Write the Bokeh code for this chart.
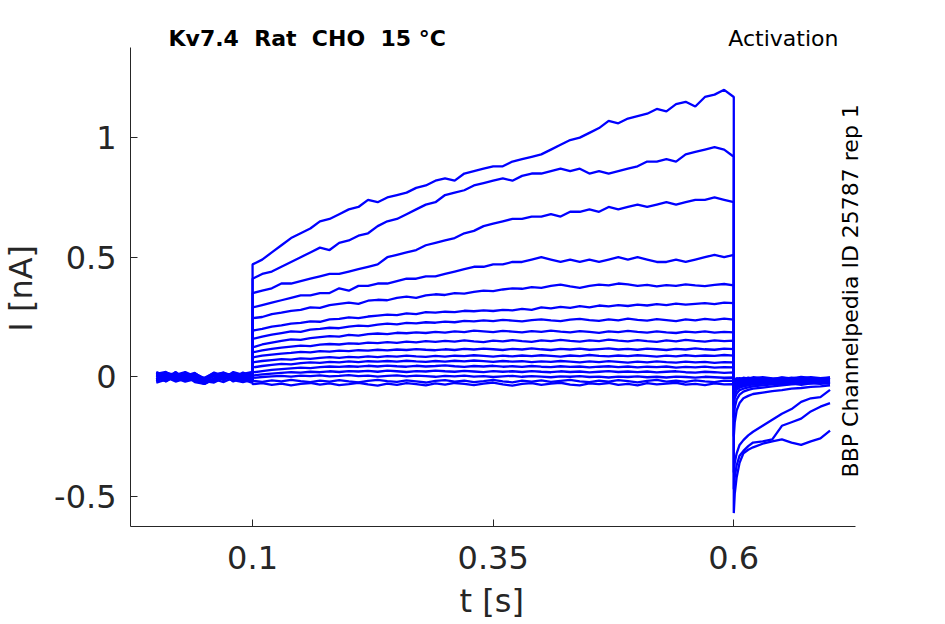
import numpy as np
from bokeh.plotting import figure
from bokeh.models import Range1d, FixedTicker, Label
from bokeh.embed import file_html
from bokeh.resources import INLINE

# sample times [s]: holding (0-0.1), test step (0.1-0.6), tail (0.6-0.7)
t_pre = [0.00, 0.01, 0.02, 0.03, 0.04, 0.05, 0.06, 0.07, 0.08, 0.09, 0.10]
t_step = [round(0.10 + 0.01 * k, 2) for k in range(51)]
t_tail = [0.600, 0.601, 0.603, 0.606, 0.610, 0.615, 0.620, 0.630,
          0.640, 0.650, 0.660, 0.670, 0.680, 0.690, 0.700]

# currents [nA]; each list = pre (11) + step (51) + tail (15)
i01 = [0.008, -0.012, 0.015, -0.004, 0.010, -0.020, 0.005, -0.008, 0.012, -0.006, 0.004,
       0.47, 0.49, 0.52, 0.55, 0.58, 0.60, 0.62, 0.65, 0.66, 0.68, 0.70, 0.71, 0.74, 0.73, 0.75, 0.76, 0.77,
       0.79, 0.80, 0.82, 0.83, 0.82, 0.85, 0.86, 0.87, 0.88, 0.88, 0.90, 0.91, 0.92, 0.93, 0.95, 0.97, 0.99,
       1.00, 1.02, 1.04, 1.07, 1.06, 1.08, 1.09, 1.10, 1.12, 1.11, 1.14, 1.15, 1.13, 1.17, 1.18, 1.20, 1.17,
       -0.57, -0.49, -0.42, -0.36, -0.32, -0.305, -0.295, -0.28, -0.27, -0.262, -0.275, -0.285, -0.27, -0.258, -0.225]
i02 = [-0.010, 0.012, -0.006, 0.018, -0.014, -0.025, 0.010, 0.016, -0.010, 0.008, -0.012,
       0.41, 0.43, 0.44, 0.46, 0.48, 0.50, 0.52, 0.54, 0.53, 0.56, 0.57, 0.59, 0.60, 0.63, 0.65, 0.66, 0.68,
       0.70, 0.72, 0.73, 0.76, 0.77, 0.78, 0.80, 0.81, 0.82, 0.83, 0.82, 0.84, 0.85, 0.85, 0.86, 0.87, 0.86,
       0.87, 0.85, 0.86, 0.85, 0.86, 0.87, 0.88, 0.90, 0.90, 0.91, 0.90, 0.93, 0.94, 0.95, 0.96, 0.95, 0.92,
       -0.47, -0.42, -0.37, -0.33, -0.31, -0.29, -0.275, -0.27, -0.262, -0.205, -0.19, -0.175, -0.145, -0.125, -0.11]
i03 = [0.015, -0.004, 0.010, -0.018, 0.006, -0.012, -0.020, 0.012, -0.004, 0.018, 0.002,
       0.35, 0.36, 0.37, 0.39, 0.39, 0.40, 0.41, 0.42, 0.43, 0.43, 0.44, 0.45, 0.46, 0.47, 0.50, 0.51, 0.52,
       0.53, 0.55, 0.56, 0.57, 0.58, 0.60, 0.61, 0.63, 0.64, 0.65, 0.66, 0.66, 0.67, 0.67, 0.68, 0.67, 0.69,
       0.69, 0.70, 0.69, 0.71, 0.70, 0.71, 0.72, 0.71, 0.72, 0.73, 0.72, 0.73, 0.74, 0.74, 0.75, 0.74, 0.73,
       -0.40, -0.36, -0.32, -0.285, -0.265, -0.245, -0.23, -0.205, -0.18, -0.155, -0.135, -0.105, -0.09, -0.085, -0.055]
i04 = [-0.020, 0.005, -0.015, 0.008, -0.022, -0.030, -0.006, 0.004, -0.016, 0.000, -0.010,
       0.29, 0.30, 0.31, 0.32, 0.33, 0.34, 0.34, 0.35, 0.35, 0.37, 0.36, 0.38, 0.38, 0.39, 0.39, 0.40, 0.41,
       0.41, 0.42, 0.42, 0.43, 0.44, 0.45, 0.46, 0.46, 0.47, 0.47, 0.48, 0.48, 0.49, 0.50, 0.49, 0.48, 0.49,
       0.48, 0.49, 0.48, 0.49, 0.50, 0.49, 0.50, 0.49, 0.48, 0.48, 0.49, 0.48, 0.49, 0.50, 0.51, 0.50, 0.51,
       -0.25, -0.19, -0.14, -0.11, -0.09, -0.08, -0.072, -0.066, -0.06, -0.056, -0.05, -0.047, -0.042, -0.04, -0.036]
i05 = [0.020, 0.004, 0.016, -0.002, 0.012, -0.008, 0.018, 0.002, 0.014, -0.004, 0.010,
       0.245, 0.25, 0.262, 0.268, 0.276, 0.28, 0.29, 0.288, 0.30, 0.305, 0.31, 0.305, 0.318, 0.322, 0.32, 0.33,
       0.335, 0.33, 0.34, 0.345, 0.342, 0.35, 0.348, 0.355, 0.36, 0.358, 0.365, 0.37, 0.368, 0.375, 0.372,
       0.38, 0.385, 0.378, 0.372, 0.38, 0.385, 0.382, 0.39, 0.386, 0.38, 0.384, 0.378, 0.383, 0.38, 0.386,
       0.382, 0.379, 0.384, 0.388, 0.382,
       -0.17, -0.13, -0.095, -0.075, -0.062, -0.055, -0.05, -0.045, -0.04, -0.036, -0.032, -0.03, -0.027, -0.03, -0.025]
i06 = [-0.005, -0.018, 0.004, -0.012, 0.000, -0.026, -0.014, 0.008, -0.018, 0.006, -0.008,
       0.193, 0.20, 0.21, 0.215, 0.222, 0.225, 0.232, 0.23, 0.24, 0.242, 0.248, 0.245, 0.252, 0.256, 0.26,
       0.258, 0.265, 0.262, 0.27, 0.268, 0.272, 0.27, 0.276, 0.274, 0.278, 0.275, 0.28, 0.278, 0.284, 0.28,
       0.29, 0.286, 0.292, 0.288, 0.295, 0.29, 0.298, 0.294, 0.30, 0.296, 0.302, 0.298, 0.304, 0.30, 0.306,
       0.302, 0.305, 0.308, 0.304, 0.31, 0.308,
       -0.12, -0.09, -0.07, -0.056, -0.05, -0.044, -0.04, -0.036, -0.032, -0.03, -0.027, -0.024, -0.026, -0.022, -0.02]
i07 = [0.012, 0.020, -0.002, 0.014, -0.008, -0.004, 0.016, -0.006, 0.020, 0.008, 0.014,
       0.158, 0.168, 0.176, 0.183, 0.19, 0.188, 0.197, 0.20, 0.205, 0.203, 0.21, 0.214, 0.212, 0.218, 0.222,
       0.219, 0.225, 0.223, 0.228, 0.226, 0.231, 0.228, 0.234, 0.232, 0.236, 0.233, 0.238, 0.235, 0.232, 0.237,
       0.24, 0.236, 0.233, 0.239, 0.242, 0.237, 0.234, 0.24, 0.236, 0.243, 0.238, 0.235, 0.241, 0.237, 0.233,
       0.24, 0.236, 0.242, 0.238, 0.243, 0.239,
       -0.09, -0.07, -0.055, -0.045, -0.04, -0.036, -0.032, -0.028, -0.025, -0.022, -0.024, -0.02, -0.018, -0.021, -0.018]
i08 = [-0.015, -0.002, -0.020, -0.008, -0.016, -0.030, -0.010, -0.022, -0.004, -0.018, -0.006,
       0.123, 0.135, 0.143, 0.15, 0.156, 0.154, 0.162, 0.166, 0.17, 0.168, 0.175, 0.172, 0.178, 0.181, 0.178,
       0.184, 0.182, 0.186, 0.183, 0.188, 0.185, 0.19, 0.187, 0.193, 0.19, 0.187, 0.192, 0.189, 0.186, 0.191,
       0.188, 0.193, 0.189, 0.186, 0.191, 0.188, 0.184, 0.19, 0.187, 0.192, 0.188, 0.185, 0.19, 0.186, 0.183,
       0.189, 0.186, 0.19, 0.185, 0.188, 0.186,
       -0.07, -0.055, -0.045, -0.038, -0.034, -0.03, -0.027, -0.024, -0.02, -0.023, -0.018, -0.021, -0.016, -0.019, -0.015]
i09 = [0.004, 0.016, 0.008, 0.020, 0.002, -0.010, 0.006, 0.018, 0.000, 0.012, 0.020,
       0.102, 0.11, 0.117, 0.122, 0.126, 0.13, 0.128, 0.134, 0.137, 0.135, 0.14, 0.138, 0.143, 0.141, 0.145,
       0.142, 0.147, 0.144, 0.149, 0.146, 0.15, 0.147, 0.152, 0.148, 0.145, 0.151, 0.148, 0.153, 0.149, 0.146,
       0.152, 0.149, 0.154, 0.15, 0.147, 0.152, 0.149, 0.155, 0.151, 0.148, 0.153, 0.149, 0.146, 0.152, 0.148,
       0.154, 0.15, 0.147, 0.152, 0.149, 0.151,
       -0.055, -0.045, -0.038, -0.032, -0.028, -0.025, -0.022, -0.018, -0.021, -0.016, -0.019, -0.014, -0.017, -0.013, -0.016]
i10 = [-0.025, -0.012, -0.006, -0.020, -0.010, -0.018, -0.024, -0.004, -0.014, -0.022, -0.012,
       0.081, 0.088, 0.093, 0.097, 0.10, 0.104, 0.102, 0.107, 0.105, 0.109, 0.107, 0.111, 0.109, 0.113, 0.11,
       0.114, 0.112, 0.116, 0.113, 0.111, 0.115, 0.112, 0.117, 0.114, 0.118, 0.115, 0.112, 0.117, 0.114, 0.119,
       0.115, 0.112, 0.117, 0.114, 0.118, 0.113, 0.116, 0.119, 0.114, 0.117, 0.113, 0.118, 0.115, 0.112, 0.117,
       0.114, 0.119, 0.115, 0.113, 0.118, 0.116,
       -0.045, -0.036, -0.03, -0.026, -0.022, -0.019, -0.016, -0.02, -0.014, -0.018, -0.012, -0.016, -0.011, -0.015, -0.012]
i11 = [0.018, -0.008, 0.012, 0.004, 0.016, -0.014, 0.002, 0.014, 0.008, -0.002, 0.016,
       0.06, 0.066, 0.07, 0.074, 0.072, 0.077, 0.075, 0.079, 0.082, 0.079, 0.083, 0.081, 0.085, 0.082, 0.086,
       0.084, 0.088, 0.085, 0.083, 0.087, 0.084, 0.088, 0.086, 0.09, 0.087, 0.084, 0.088, 0.085, 0.089, 0.086,
       0.09, 0.087, 0.084, 0.089, 0.086, 0.091, 0.087, 0.085, 0.089, 0.086, 0.09, 0.087, 0.084, 0.088, 0.085,
       0.09, 0.086, 0.089, 0.087, 0.091, 0.088,
       -0.038, -0.03, -0.025, -0.02, -0.024, -0.018, -0.014, -0.017, -0.012, -0.016, -0.01, -0.014, -0.018, -0.011, -0.013]
i12 = [-0.008, 0.010, -0.016, 0.002, -0.004, -0.022, 0.012, -0.012, 0.006, -0.016, 0.004,
       0.039, 0.045, 0.05, 0.054, 0.052, 0.057, 0.06, 0.058, 0.062, 0.06, 0.064, 0.061, 0.065, 0.063, 0.066,
       0.063, 0.067, 0.064, 0.062, 0.066, 0.063, 0.067, 0.064, 0.068, 0.065, 0.062, 0.066, 0.063, 0.065, 0.061,
       0.064, 0.062, 0.066, 0.063, 0.06, 0.064, 0.061, 0.065, 0.062, 0.059, 0.063, 0.06, 0.064, 0.061, 0.059,
       0.063, 0.06, 0.062, 0.058, 0.061, 0.06,
       -0.032, -0.024, -0.02, -0.016, -0.012, -0.017, -0.01, -0.014, -0.008, -0.012, -0.015, -0.009, -0.013, -0.007, -0.01]
i13 = [0.002, -0.014, 0.020, -0.010, 0.014, -0.006, -0.016, 0.004, -0.008, 0.014, -0.014,
       0.018, 0.024, 0.029, 0.032, 0.035, 0.038, 0.036, 0.04, 0.043, 0.041, 0.044, 0.042, 0.046, 0.043, 0.047,
       0.044, 0.042, 0.046, 0.043, 0.045, 0.048, 0.044, 0.041, 0.045, 0.043, 0.046, 0.042, 0.044, 0.041, 0.045,
       0.042, 0.04, 0.044, 0.041, 0.043, 0.039, 0.042, 0.044, 0.04, 0.043, 0.039, 0.042, 0.04, 0.043, 0.038,
       0.041, 0.039, 0.042, 0.038, 0.04, 0.039,
       -0.026, -0.02, -0.015, -0.01, -0.014, -0.008, -0.012, -0.006, -0.011, -0.004, -0.009, -0.013, -0.006, -0.01, -0.005]
i14 = [-0.012, 0.016, 0.000, -0.016, 0.010, -0.020, 0.008, -0.014, 0.016, -0.004, 0.008,
       0.005, 0.01, 0.013, 0.016, 0.019, 0.017, 0.021, 0.019, 0.023, 0.02, 0.024, 0.022, 0.025, 0.021, 0.026,
       0.023, 0.02, 0.024, 0.022, 0.026, 0.023, 0.021, 0.025, 0.022, 0.019, 0.024, 0.021, 0.023, 0.02, 0.024,
       0.021, 0.019, 0.023, 0.02, 0.022, 0.018, 0.021, 0.024, 0.02, 0.022, 0.019, 0.022, 0.018, 0.021, 0.023,
       0.019, 0.017, 0.021, 0.019, 0.016, 0.018,
       -0.02, -0.014, -0.01, -0.006, -0.01, -0.004, -0.008, -0.002, -0.007, -0.011, -0.004, -0.008, -0.002, -0.006, -0.003]
i15 = [0.010, -0.006, -0.012, 0.012, -0.018, -0.016, 0.014, 0.000, -0.012, 0.010, -0.018,
       -0.005, -0.001, 0.002, 0.004, 0.001, 0.005, 0.003, 0.006, 0.002, 0.004, 0.007, 0.003, 0.005, 0.001,
       0.004, 0.006, 0.002, 0.005, 0.003, 0.0, 0.004, 0.002, 0.005, 0.001, 0.003, -0.001, 0.002, 0.004, 0.0,
       0.003, 0.001, -0.002, 0.002, 0.0, 0.003, -0.001, 0.001, -0.003, 0.001, -0.001, 0.002, -0.002, 0.0,
       -0.003, 0.001, -0.001, -0.004, 0.0, -0.002, -0.004, -0.003,
       -0.016, -0.01, -0.006, -0.01, -0.004, -0.008, -0.002, -0.006, -0.01, -0.003, -0.007, -0.001, -0.005, -0.009, -0.004]
i16 = [-0.018, 0.000, 0.012, -0.014, 0.006, -0.024, -0.008, 0.010, -0.020, 0.002, -0.022,
       -0.017, -0.021, -0.015, -0.019, -0.013, -0.018, -0.022, -0.016, -0.02, -0.014, -0.019, -0.023, -0.017,
       -0.013, -0.018, -0.021, -0.015, -0.019, -0.024, -0.017, -0.014, -0.02, -0.016, -0.022, -0.018, -0.013,
       -0.019, -0.023, -0.016, -0.02, -0.015, -0.021, -0.017, -0.013, -0.019, -0.022, -0.016, -0.02, -0.014,
       -0.018, -0.023, -0.017, -0.013, -0.02, -0.016, -0.021, -0.015, -0.019, -0.022, -0.016, -0.017,
       -0.03, -0.026, -0.022, -0.028, -0.02, -0.025, -0.018, -0.023, -0.027, -0.019, -0.024, -0.017, -0.022, -0.026, -0.02]
i17 = [0.006, -0.020, 0.004, 0.016, -0.012, -0.012, -0.018, 0.006, 0.010, -0.012, -0.026,
       -0.031, -0.027, -0.034, -0.029, -0.036, -0.03, -0.026, -0.033, -0.028, -0.035, -0.031, -0.025, -0.032,
       -0.037, -0.029, -0.034, -0.027, -0.031, -0.036, -0.028, -0.033, -0.026, -0.03, -0.035, -0.029, -0.024,
       -0.032, -0.037, -0.03, -0.027, -0.034, -0.029, -0.025, -0.033, -0.036, -0.028, -0.031, -0.026, -0.034,
       -0.03, -0.036, -0.027, -0.032, -0.029, -0.025, -0.033, -0.03, -0.035, -0.028, -0.032, -0.031,
       -0.036, -0.032, -0.028, -0.034, -0.03, -0.026, -0.033, -0.029, -0.024, -0.031, -0.027, -0.034, -0.028, -0.025, -0.03]

x_ticks = [0.1, 0.35, 0.6]
x_tick_labels = ["0.1", "0.35", "0.6"]
y_ticks = [-0.5, 0, 0.5, 1]
y_tick_labels = ["-0.5", "0", "0.5", "1"]
x_lim = (-0.0268, 0.7265)
y_lim = (-0.626, 1.377)

t_all = t_pre + t_step + t_tail
traces = [i01, i02, i03, i04, i05, i06, i07, i08, i09,
          i10, i11, i12, i13, i14, i15, i16, i17]

AX = "#262626"
FONT = "DejaVu Sans"

# frame spans the whole canvas; the axes sit at the MATLAB box edges
p = figure(width=943, height=622, title=None,
           x_range=Range1d(-0.1619, 0.8179), y_range=Range1d(-1.0276, 1.5735),
           output_backend="svg", toolbar_location=None, min_border=0)
p.outline_line_color = None
p.grid.visible = False
p.background_fill_color = "white"
p.border_fill_color = "white"

for vals in traces:
    assert len(vals) == len(t_all)
    p.line(t_all, vals, line_color="#0000ff", line_width=2.3)

p.xaxis.ticker = FixedTicker(ticks=x_ticks)
p.xaxis.major_label_overrides = dict(zip(x_ticks, x_tick_labels))
p.xaxis.fixed_location = y_lim[0]
p.xaxis.bounds = x_lim
p.yaxis.ticker = FixedTicker(ticks=y_ticks)
p.yaxis.major_label_overrides = dict(zip(y_ticks, y_tick_labels))
p.yaxis.fixed_location = x_lim[0]
p.yaxis.bounds = y_lim
for ax in (p.xaxis[0], p.yaxis[0]):
    ax.axis_line_color = AX
    ax.major_tick_line_color = AX
    ax.major_tick_in = 7
    ax.major_tick_out = 0
    ax.minor_tick_line_color = None
    ax.major_label_text_font = FONT
    ax.major_label_text_font_size = "32px"
    ax.major_label_text_color = AX
p.xaxis.major_label_standoff = 20
p.yaxis.major_label_standoff = 14

# axis labels
p.add_layout(Label(x=0.3485, y=-0.9388, text="t [s]", text_font=FONT, text_font_size="32px",
                   text_color=AX, text_align="center", text_baseline="alphabetic"))
p.add_layout(Label(x=-0.1408, y=0.3701, text="I [nA]", angle=np.pi / 2, text_font=FONT,
                   text_font_size="32px", text_color=AX, text_align="center",
                   text_baseline="alphabetic"))

# titles and id note
p.add_layout(Label(x=0.0127, y=1.4155, text="Kv7.4\u00a0 Rat\u00a0 CHO\u00a0 15 °C", text_font=FONT,
                   text_font_style="bold", text_font_size="22px", text_color="black",
                   text_align="left", text_baseline="alphabetic"))
p.add_layout(Label(x=0.7088, y=1.4155, text="Activation", text_font=FONT,
                   text_font_size="22px", text_color="black",
                   text_align="right", text_baseline="alphabetic"))
p.add_layout(Label(x=0.7216, y=0.3596, text="BBP Channelpedia ID 25787 rep 1", angle=np.pi / 2,
                   text_font=FONT, text_font_size="22px", text_color="black",
                   text_align="center", text_baseline="alphabetic"))

open("out.html", "w").write(file_html(p, INLINE))
